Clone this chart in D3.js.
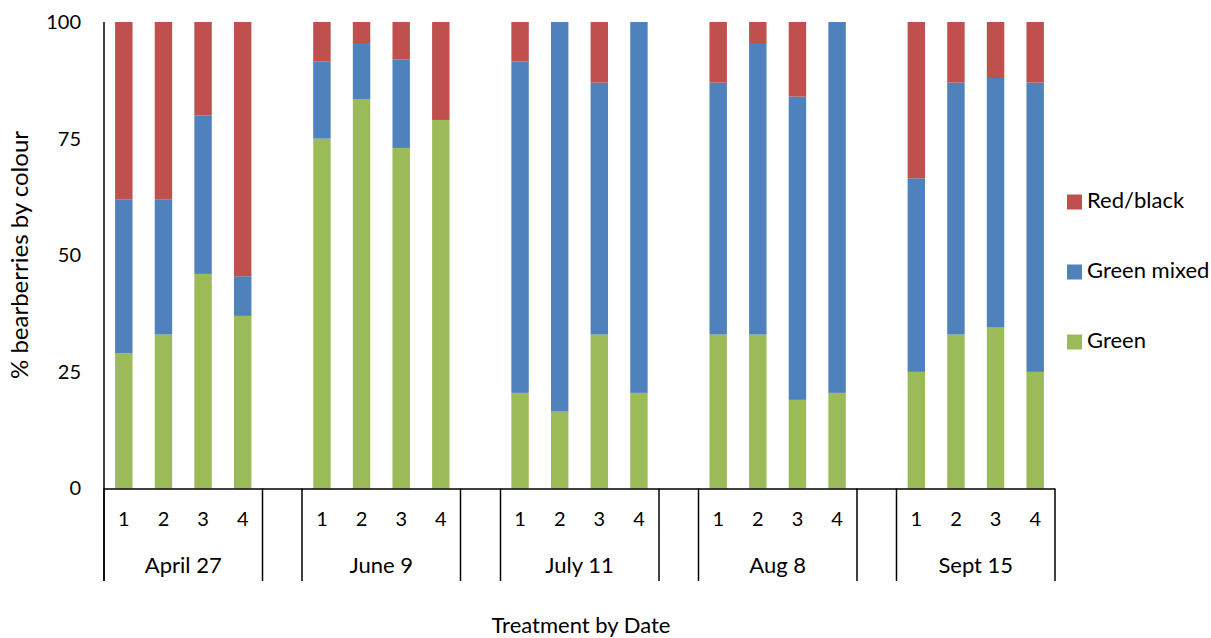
<!DOCTYPE html>
<html><head><meta charset="utf-8">
<script src="https://cdn.jsdelivr.net/npm/d3@7"></script>
<style>body{margin:0;background:#fff}svg{display:block}text{font-family:Lato,"Open Sans",sans-serif;fill:#000}</style>
</head><body><svg id="c" width="1211" height="638"></svg>
<script>
const dates = ["April 27","June 9","July 11","Aug 8","Sept 15"];
const treatments = ["1","2","3","4"];
const green      = [29,33,46,37, 75,83.5,73,79, 20.5,16.5,33,20.5, 33,33,19,20.5, 25,33,34.5,25];
const greenMixed = [33,29,34,8.5, 16.5,12,19,0, 71,83.5,54,79.5, 54,62.5,65,79.5, 41.5,54,53.5,62];
const redBlack   = [38,38,20,54.5, 8.5,4.5,8,21, 8.5,0,13,0, 13,4.5,16,0, 33.5,13,12,13];
const seriesNames = ["Green","Green mixed","Red/black"];
const colors = {"Green":"#9BBB59","Green mixed":"#4F81BD","Red/black":"#C0504D"};
const yTicks = [0,25,50,75,100];

const svg = d3.select("#c");
const x0 = 104, x1 = 1055, yTop = 22, yBot = 488.5;

const slots = [];
const rows = [];
dates.forEach((d,i)=>{
  treatments.forEach((t,j)=>{
    const k = d+"|"+t; slots.push(k);
    const idx = i*4+j;
    rows.push({key:k, date:d, t:t, "Green":green[idx], "Green mixed":greenMixed[idx], "Red/black":redBlack[idx]});
  });
  if(i<dates.length-1) slots.push("gap"+i);
});

const x = d3.scaleBand().domain(slots).range([x0,x1]).paddingInner(0.56).paddingOuter(0.28);
const step = (x1-x0)/slots.length;
const y = d3.scaleLinear().domain([0,100]).range([yBot,yTop]);

const stack = d3.stack().keys(seriesNames)(rows);
svg.append("g").selectAll("g").data(stack).join("g").attr("fill",d=>colors[d.key])
  .selectAll("rect").data(d=>d).join("rect")
  .attr("x",d=>x(d.data.key)).attr("width",x.bandwidth())
  .attr("y",d=>y(d[1])).attr("height",d=>y(d[0])-y(d[1]));

const ya = svg.append("g").attr("transform",`translate(${x0},0)`)
  .call(d3.axisLeft(y).tickValues(yTicks).tickSize(0).tickPadding(23));
ya.select(".domain").remove();
ya.selectAll("text").style("font-size","20px").style("font-family","Lato,sans-serif").attr("fill","#000");

const axisColor = "#000";
svg.append("line").attr("x1",x0).attr("x2",x0).attr("y1",yTop).attr("y2",581).attr("stroke",axisColor).attr("stroke-width",1.5);
svg.append("line").attr("x1",x0).attr("x2",x1).attr("y1",yBot+0.5).attr("y2",yBot+0.5).attr("stroke",axisColor).attr("stroke-width",1.5);

const bounds = [];
dates.forEach((d,i)=>{
  const l = x0 + slots.indexOf(d+"|1")*step;
  const r = x0 + (slots.indexOf(d+"|4")+1)*step;
  bounds.push(l, r);
  svg.append("text").attr("x",(l+r)/2).attr("y",567).attr("text-anchor","middle")
    .attr("dominant-baseline","middle").style("font-size","22px").text(d);
});
Array.from(new Set(bounds.map(b=>Math.round(b*2)/2))).forEach(b=>{
  svg.append("line").attr("x1",b).attr("x2",b).attr("y1",yBot).attr("y2",581).attr("stroke",axisColor).attr("stroke-width",1.5);
});
rows.forEach(r=>{
  svg.append("text").attr("x",x(r.key)+x.bandwidth()/2).attr("y",521).attr("text-anchor","middle")
    .attr("dominant-baseline","middle").style("font-size","20px").text(r.t);
});

svg.append("text").attr("x",581).attr("y",627).attr("text-anchor","middle").attr("dominant-baseline","middle")
  .style("font-size","22px").text("Treatment by Date");
svg.append("text").attr("transform","translate(22,255) rotate(-90)").attr("text-anchor","middle").attr("dominant-baseline","middle")
  .style("font-size","24px").text("% bearberries by colour");

const legendOrder = ["Red/black","Green mixed","Green"];
const lg = svg.append("g");
legendOrder.forEach((s,i)=>{
  const cy = 202 + i*70;
  lg.append("rect").attr("x",1067).attr("y",cy-7.5).attr("width",15).attr("height",15).attr("fill",colors[s]);
  lg.append("text").attr("x",1087).attr("y",cy).attr("dominant-baseline","middle").style("font-size","22px").text(s);
});
</script></body></html>
